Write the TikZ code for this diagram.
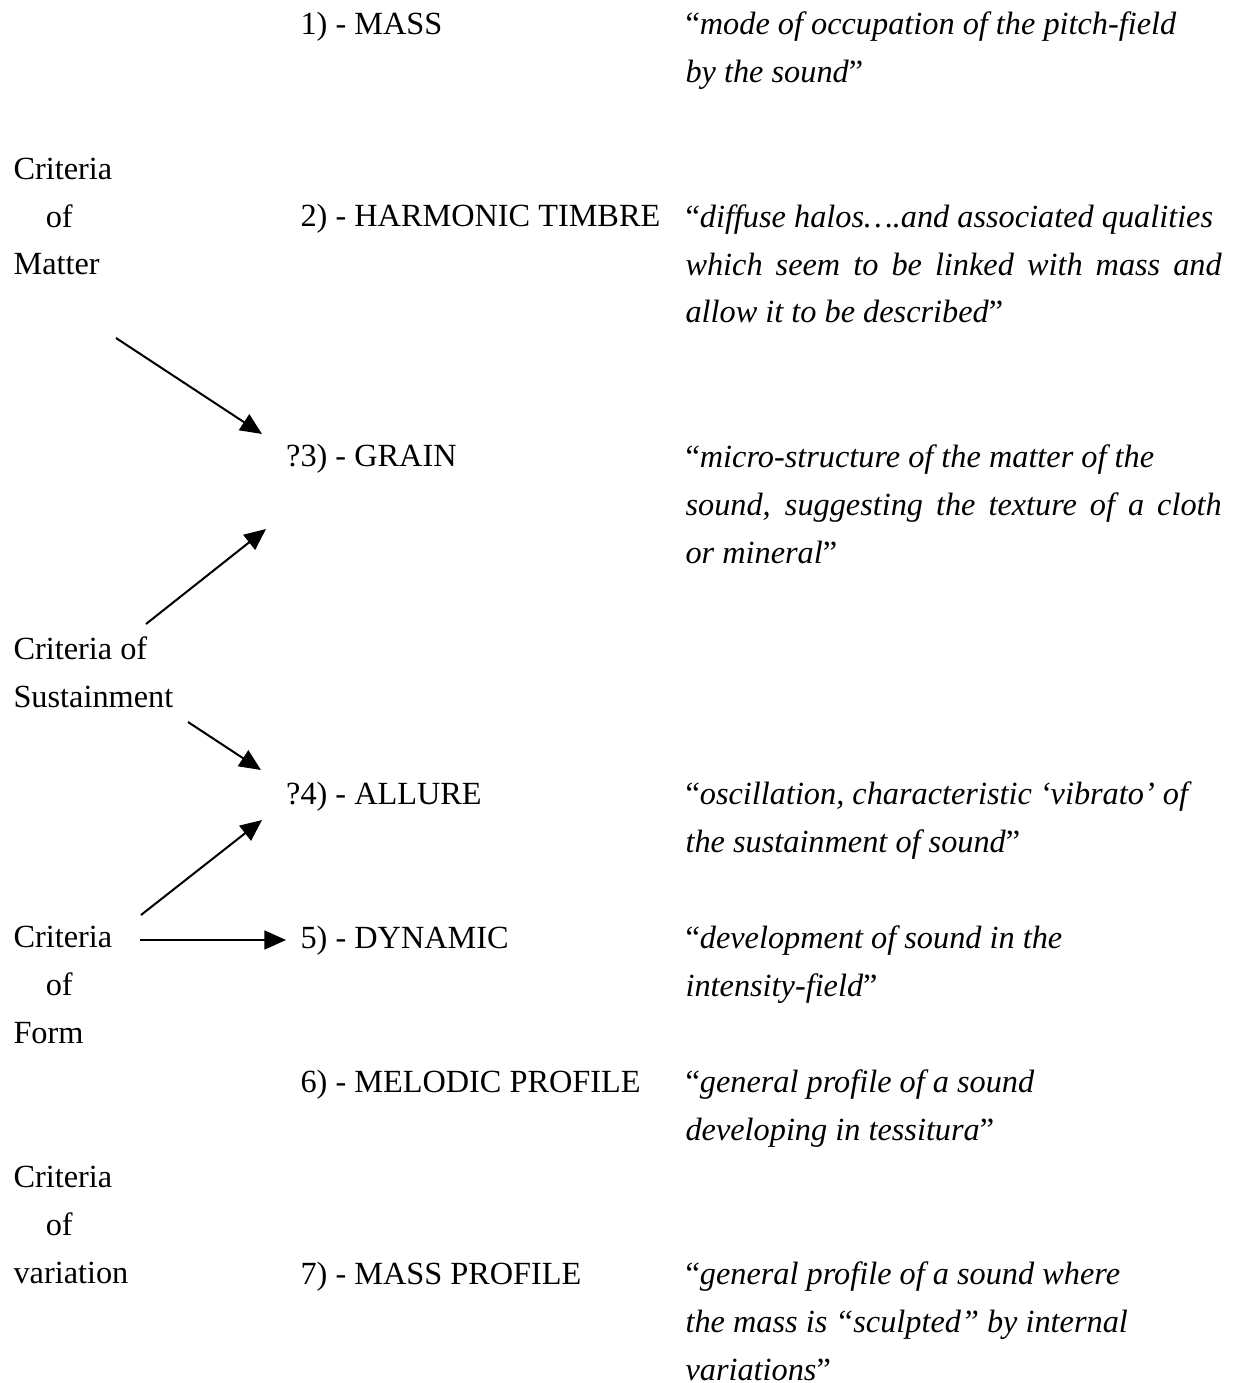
\documentclass[tikz,border=0pt]{standalone}
\usepackage{fontspec}
\setmainfont{Liberation Serif}
\usetikzlibrary{arrows.meta,positioning}
\newcommand{\fullline}[1]{\makebox[199.2pt][s]{#1}}
\newcommand{\openq}{{\upshape“}}
\newcommand{\closeq}{{\upshape”}}

\begin{document}
\begin{tikzpicture}[x=0.3715pt,y=-0.3715pt]
\tikzstyle{every node}=[inner sep=0pt,anchor=base west,align=left,font=\fontsize{12}{17.83}\selectfont]
\tikzstyle{quote}=[font=\fontsize{12}{17.83}\selectfont\itshape]
\tikzstyle{pointer}=[-{Triangle[length=8pt,width=7pt]},line width=0.75pt]
\useasboundingbox (0,0) rectangle (1233,1383);

% criteria (placed at the baseline of their last line)
\node (matter) at (13,275) {Criteria\\\hspace*{12pt}of\\Matter};
\node (sustain) at (13,707) {Criteria of\\Sustainment};
\node (form) at (13,1043) {Criteria\\\hspace*{12pt}of\\Form};
\node (variation) at (13,1283) {Criteria\\\hspace*{12pt}of\\variation};

% the seven criteria
\node (mass) at (300,35) {1) - MASS};
\node (timbre) at (300,227) {2) - HARMONIC TIMBRE};
\node (grain) at (300,467) {\llap{?}3) - GRAIN};
\node (allure) at (300,804) {\llap{?}4) - ALLURE};
\node (dynamic) at (300,948) {5) - DYNAMIC};
\node (melodic) at (300,1092) {6) - MELODIC PROFILE};
\node (massprof) at (300,1284) {7) - MASS PROFILE};

% definitions
\node[quote] (massq) at (685,83) {\openq mode of occupation of the pitch-field\\by the sound\closeq};
\node[quote] (timbreq) at (685,323) {\openq diffuse halos….and associated qualities\\\fullline{which seem to be linked with mass and}\\allow it to be described\closeq};
\node[quote] (grainq) at (685,563) {\openq micro-structure of the matter of the\\\fullline{sound, suggesting the texture of a cloth}\\or mineral\closeq};
\node[quote] (allureq) at (685,852) {\openq oscillation, characteristic ‘vibrato’ of\\the sustainment of sound\closeq};
\node[quote] (dynamicq) at (685,996) {\openq development of sound in the\\intensity-field\closeq};
\node[quote] (melodicq) at (685,1140) {\openq general profile of a sound\\developing in tessitura\closeq};
\node[quote] (massprofq) at (685,1380) {\openq general profile of a sound where\\the mass is “sculpted” by internal\\variations\closeq};

% arrows
\coordinate (m1) at (116,338);
\coordinate (g1) at (262,434);
\coordinate (s1) at (146,624);
\coordinate (g2) at (266,529);
\coordinate (s2) at (188,722);
\coordinate (a1) at (261,770);
\coordinate (f1) at (141,915);
\coordinate (a2) at (262,820);
\coordinate (f2) at (140,940);
\coordinate (d1) at (286,940);
\draw[pointer] (m1) -- (g1);
\draw[pointer] (s1) -- (g2);
\draw[pointer] (s2) -- (a1);
\draw[pointer] (f1) -- (a2);
\draw[pointer] (f2) -- (d1);
\end{tikzpicture}
\end{document}
